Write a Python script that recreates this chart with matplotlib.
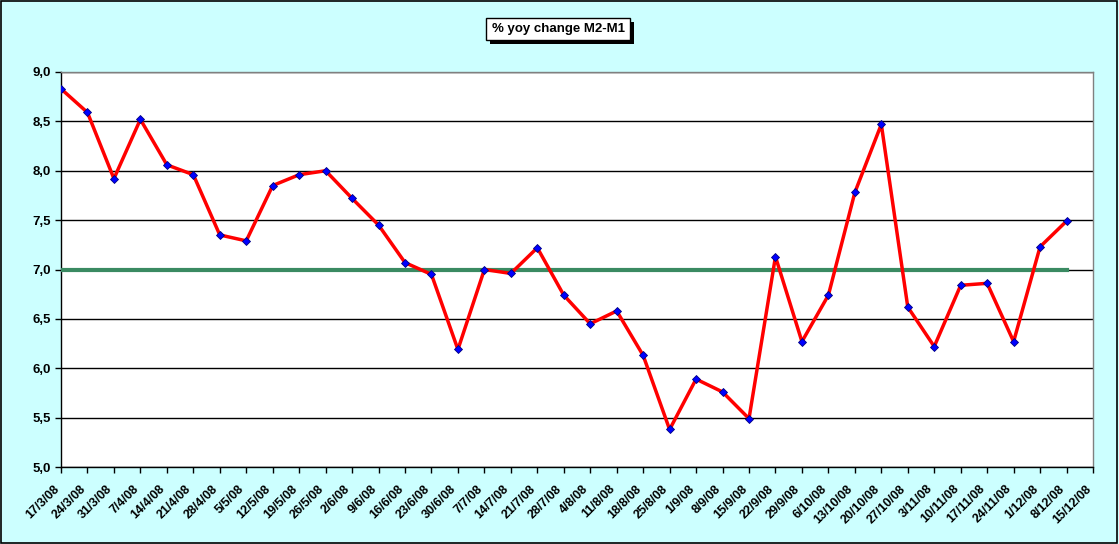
import matplotlib
matplotlib.use("Agg")
import matplotlib.pyplot as plt
import matplotlib.transforms as mtransforms
import matplotlib.patheffects as pe
from matplotlib.patches import Rectangle
from matplotlib.ticker import MultipleLocator, FuncFormatter

dates = ["17/3/08", "24/3/08", "31/3/08", "7/4/08", "14/4/08", "21/4/08", "28/4/08",
         "5/5/08", "12/5/08", "19/5/08", "26/5/08", "2/6/08", "9/6/08", "16/6/08",
         "23/6/08", "30/6/08", "7/7/08", "14/7/08", "21/7/08", "28/7/08", "4/8/08",
         "11/8/08", "18/8/08", "25/8/08", "1/9/08", "8/9/08", "15/9/08", "22/9/08",
         "29/9/08", "6/10/08", "13/10/08", "20/10/08", "27/10/08", "3/11/08",
         "10/11/08", "17/11/08", "24/11/08", "1/12/08", "8/12/08", "15/12/08"]

m2_m1 = [8.83, 8.59, 7.92, 8.52, 8.06, 7.96, 7.35, 7.29, 7.85, 7.96, 8.00, 7.72,
         7.45, 7.07, 6.95, 6.19, 7.00, 6.96, 7.22, 6.74, 6.45, 6.58, 6.13, 5.38,
         5.89, 5.76, 5.49, 7.13, 6.27, 6.74, 7.78, 8.47, 6.62, 6.22, 6.84, 6.86,
         6.27, 7.23, 7.49]

target = [7.0] * 39

W, H = 1119, 544
fig = plt.figure(figsize=(W / 100, H / 100), dpi=100)
fig.patch.set_facecolor("#CCFFFF")
fig.patches.append(Rectangle((0.0005, 0.001), 0.998, 0.997, transform=fig.transFigure,
                             fill=False, edgecolor="black", linewidth=1.2))

left, right, top, bottom = 61, 1093, 72, 467
ax = fig.add_axes([left / W, (H - bottom) / H, (right - left) / W, (bottom - top) / H])
ax.set_facecolor("white")

x = list(range(len(dates)))
ax.plot(x[:len(target)], target, color="#3A8A62", linewidth=3, zorder=3)
ax.plot(x[:len(m2_m1)], m2_m1, color="#FF0000", linewidth=2.5, zorder=4,
        marker="D", markersize=4.5, markerfacecolor="#0000FF",
        markeredgecolor="#000080", markeredgewidth=0.6)

ax.set_xlim(0, len(dates) - 1)
ax.set_ylim(5.0, 9.0)
ax.yaxis.set_major_locator(MultipleLocator(0.5))
ax.yaxis.set_major_formatter(FuncFormatter(lambda v, p: f"{v:.1f}".replace(".", ",")))
ax.grid(axis="y", color="black", linewidth=1.0, zorder=1)
ax.set_axisbelow(True)

ax.set_xticks(x)
ax.set_xticklabels([])
offset = mtransforms.ScaledTranslation(-8 / 100, -16 / 100, fig.dpi_scale_trans)
lbl_tr = ax.get_xaxis_transform() + offset
for i, d in enumerate(dates):
    ax.text(i, 0, d, transform=lbl_tr, rotation=45, ha="right", va="top",
            rotation_mode="anchor", fontsize=9, fontweight="bold",
            family="Liberation Sans", color="black", clip_on=False)

for lbl in ax.get_yticklabels():
    lbl.set_fontsize(9.5)
    lbl.set_fontweight("bold")
    lbl.set_family("Liberation Sans")
ax.tick_params(axis="x", direction="out", length=4, width=1, pad=3, colors="black")
ax.tick_params(axis="y", direction="out", length=4, width=1, pad=3, colors="black")

for s in ("top", "right"):
    ax.spines[s].set_color("#808080")
    ax.spines[s].set_linewidth(1)
for s in ("left", "bottom"):
    ax.spines[s].set_color("black")
    ax.spines[s].set_linewidth(1)

title = "% yoy change M2-M1"
t = fig.text(558 / W, 1 - 29 / H, title, ha="center", va="center", fontsize=9.5,
             fontweight="bold", family="Liberation Sans", color="black",
             bbox=dict(boxstyle="square,pad=0.4", facecolor="white", edgecolor="black",
                       linewidth=1))
t.get_bbox_patch().set_path_effects([
    pe.SimplePatchShadow(offset=(3, -3), shadow_rgbFace="black", alpha=1.0),
    pe.Normal()])

fig.savefig("out.png", dpi=100, facecolor=fig.get_facecolor())
